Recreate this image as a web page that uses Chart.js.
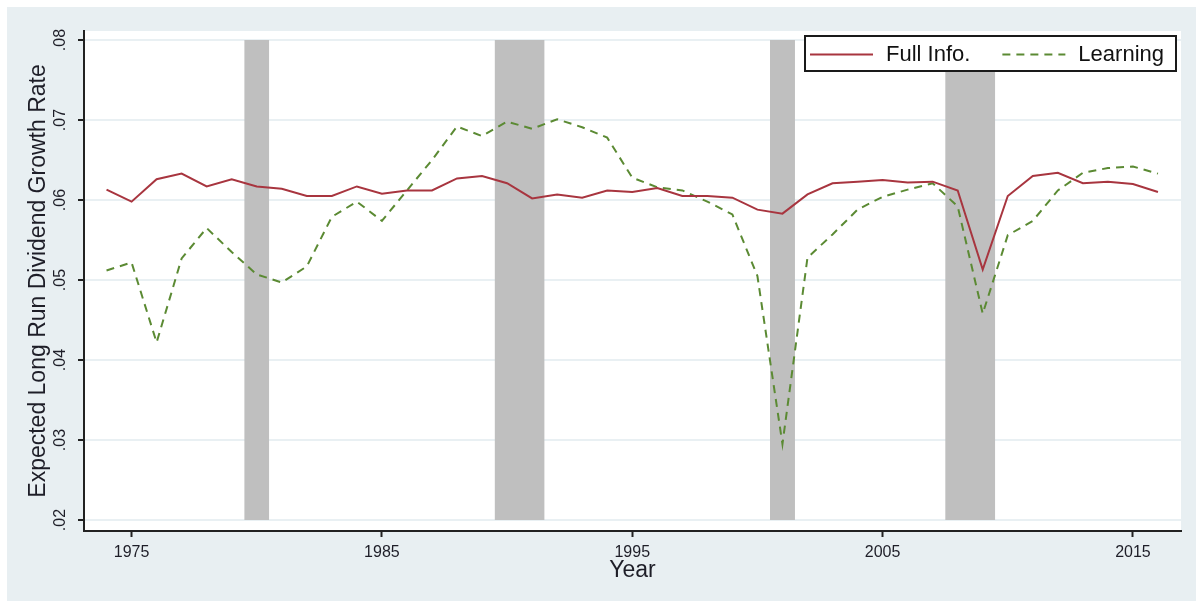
<!DOCTYPE html>
<html>
<head>
<meta charset="utf-8">
<script src="https://cdn.jsdelivr.net/npm/chart.js@4/dist/chart.umd.min.js"></script>
<style>
  html, body { margin: 0; padding: 0; background: #ffffff; }
  canvas { display: block; }
</style>
</head>
<body>
<canvas id="chart" width="1196" height="603"></canvas>
<script>
// annual observations
const years = [1974, 1975, 1976, 1977, 1978, 1979, 1980, 1981, 1982, 1983,
               1984, 1985, 1986, 1987, 1988, 1989, 1990, 1991, 1992, 1993,
               1994, 1995, 1996, 1997, 1998, 1999, 2000, 2001, 2002, 2003,
               2004, 2005, 2006, 2007, 2008, 2009, 2010, 2011, 2012, 2013,
               2014, 2015, 2016];

const fullInfo = [0.0613, 0.0598, 0.0626, 0.0633, 0.0617, 0.0626, 0.0617, 0.0614, 0.0605, 0.0605,
                  0.0617, 0.0608, 0.0612, 0.0612, 0.0627, 0.0630, 0.0621, 0.0602, 0.0607, 0.0603,
                  0.0612, 0.0610, 0.0615, 0.0605, 0.0605, 0.0603, 0.0588, 0.0583, 0.0607, 0.0621,
                  0.0623, 0.0625, 0.0622, 0.0623, 0.0612, 0.0513, 0.0605, 0.0630, 0.0634, 0.0621,
                  0.0623, 0.0620, 0.0610];

const learning = [0.0512, 0.0522, 0.0422, 0.0527, 0.0565, 0.0535, 0.0507, 0.0497, 0.0517, 0.0579,
                  0.0598, 0.0574, 0.0612, 0.0650, 0.0692, 0.0680, 0.0698, 0.0689, 0.0701, 0.0691,
                  0.0678, 0.0628, 0.0616, 0.0612, 0.0598, 0.0582, 0.0505, 0.0295, 0.0528, 0.0557,
                  0.0588, 0.0604, 0.0613, 0.0621, 0.0592, 0.0458, 0.0556, 0.0574, 0.0612, 0.0634,
                  0.0640, 0.0642, 0.0633];

// recession shading
const recStart = [1979.5, 1989.5, 2000.5, 2007.5];
const recEnd   = [1980.5, 1991.5, 2001.5, 2009.5];
const shadeLow = 0.02;
const shadeHigh = 0.08;

const xTicks = [1975, 1985, 1995, 2005, 2015];
const yTicks = [0.02, 0.03, 0.04, 0.05, 0.06, 0.07, 0.08];

const FONT = "'Liberation Sans', Arial, sans-serif";

const backdrop = {
    id: "backdrop",
    beforeDraw(chart) {
        const { ctx, chartArea: a, width, height } = chart;
        ctx.save();
        ctx.fillStyle = "#ffffff";
        ctx.fillRect(0, 0, width, height);
        ctx.fillStyle = "#e8eff2";
        ctx.fillRect(7, 7, width - 7, height - 9);
        ctx.fillStyle = "#ffffff";
        ctx.fillRect(a.left, a.top, a.right - a.left, a.bottom - a.top);
        ctx.restore();
    }
};

// boxed legend inside the plot, top right
const boxLegend = {
    id: "boxLegend",
    afterDraw(chart) {
        const { ctx, chartArea: a } = chart;
        const items = chart.data.datasets.filter(d => d.label);
        ctx.save();
        ctx.font = "22px " + FONT;
        const sample = 63, gapText = 13, gapItem = 32, padL = 5, padR = 12;
        let w = padL + padR;
        items.forEach((d, i) => {
            w += sample + gapText + ctx.measureText(d.label).width;
            if (i > 0) w += gapItem;
        });
        const h = 35;
        const right = a.right - 5;
        const left = right - w;
        const top = a.top + 5;
        ctx.fillStyle = "#ffffff";
        ctx.fillRect(left, top, w, h);
        ctx.strokeStyle = "#1a1a1a";
        ctx.lineWidth = 2;
        ctx.strokeRect(left, top, w, h);

        let x = left + padL;
        const cy = top + h / 2 + 1;
        items.forEach((d, i) => {
            if (i > 0) x += gapItem;
            ctx.strokeStyle = d.borderColor;
            ctx.lineWidth = d.borderWidth;
            ctx.setLineDash(d.borderDash || []);
            ctx.beginPath();
            ctx.moveTo(x, cy);
            ctx.lineTo(x + sample, cy);
            ctx.stroke();
            ctx.setLineDash([]);
            x += sample + gapText;
            ctx.fillStyle = "#111111";
            ctx.textBaseline = "middle";
            ctx.textAlign = "left";
            ctx.fillText(d.label, x, cy);
            x += ctx.measureText(d.label).width;
        });
        ctx.restore();
    }
};

const lineData = vals => vals.map((v, i) => ({ x: years[i], y: v }));

const shades = recStart.map((s, i) => ({
    data: [{ x: s, y: shadeHigh }, { x: recEnd[i], y: shadeHigh }],
    borderColor: "rgba(0,0,0,0)",
    borderWidth: 1,
    backgroundColor: "#bfbfbf",
    pointRadius: 0,
    fill: { value: shadeLow },
    tension: 0
}));

const ctx = document.getElementById("chart").getContext("2d");

new Chart(ctx, {
    type: "line",
    data: {
        datasets: [
            {
                label: "Full Info.",
                data: lineData(fullInfo),
                borderColor: "#a8353f",
                borderWidth: 2,
                pointRadius: 0,
                tension: 0,
                fill: false
            },
            {
                label: "Learning",
                data: lineData(learning),
                borderColor: "#5b8a33",
                borderWidth: 2,
                borderDash: [8, 6],
                pointRadius: 0,
                tension: 0,
                fill: false
            },
            ...shades
        ]
    },
    options: {
        responsive: false,
        animation: false,
        devicePixelRatio: 1,
        layout: { padding: { top: 31, right: 15, left: 0, bottom: 0 } },
        scales: {
            x: {
                type: "linear",
                min: 1973.1,
                max: 2016.92,
                afterBuildTicks: s => { s.ticks = xTicks.map(v => ({ value: v })); },
                afterFit: s => { s.height = 72; },
                border: { display: true, color: "#222222", width: 2 },
                grid: {
                    color: "rgba(0,0,0,0)",
                    tickColor: "#222222",
                    tickLength: 6,
                    tickWidth: 2
                },
                ticks: {
                    color: "#1e1e28",
                    font: { family: FONT, size: 16 },
                    padding: 6,
                    maxRotation: 0,
                    callback: v => String(v)
                },
                title: {
                    display: true,
                    text: "Year",
                    color: "#1e1e28",
                    font: { family: FONT, size: 23 },
                    padding: { top: 0, bottom: 19 }
                }
            },
            y: {
                type: "linear",
                min: 0.01863,
                max: 0.08113,
                afterBuildTicks: s => { s.ticks = yTicks.map(v => ({ value: v })); },
                afterFit: s => { s.width = 84; },
                border: { display: true, color: "#222222", width: 2 },
                grid: {
                    color: "#e9f0f3",
                    lineWidth: 2,
                    tickColor: "#222222",
                    tickLength: 6,
                    tickWidth: 2
                },
                ticks: {
                    color: "#1e1e28",
                    font: { family: FONT, size: 16 },
                    minRotation: 90,
                    maxRotation: 90,
                    crossAlign: "center",
                    padding: 6,
                    callback: v => v.toFixed(2).replace("0.", ".")
                },
                title: {
                    display: true,
                    text: "Expected Long Run Dividend Growth Rate",
                    color: "#1e1e28",
                    font: { family: FONT, size: 23 },
                    padding: { top: 25, bottom: 0 }
                }
            }
        },
        plugins: {
            legend: { display: false },
            tooltip: { enabled: false }
        }
    },
    plugins: [backdrop, boxLegend]
});
</script>
</body>
</html>
